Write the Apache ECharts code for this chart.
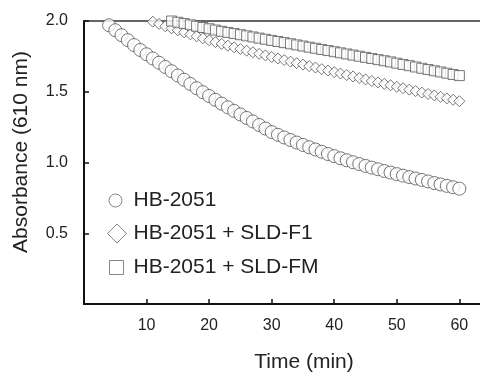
<!DOCTYPE html>
<html>
<head>
<meta charset="utf-8">
<script src="https://cdn.jsdelivr.net/npm/echarts@6/dist/echarts.min.js"></script>
<style>html,body{margin:0;padding:0;background:#fff}#c{width:480px;height:372px}</style>
</head>
<body>
<div id="c"></div>
<script>
var seriesNames = ['HB-2051', 'HB-2051 + SLD-F1', 'HB-2051 + SLD-FM'];
var timeHB = [4,5,6,7,8,9,10,11,12,13,14,15,16,17,18,19,20,21,22,23,24,25,26,27,28,29,30,31,32,33,34,35,36,37,38,39,40,41,42,43,44,45,46,47,48,49,50,51,52,53,54,55,56,57,58,59,60];
var absHB = [1.97,1.935,1.90,1.865,1.83,1.795,1.765,1.735,1.705,1.675,1.645,1.615,1.585,1.555,1.525,1.497,1.47,1.443,1.416,1.39,1.365,1.34,1.315,1.29,1.265,1.24,1.215,1.196,1.177,1.159,1.141,1.124,1.108,1.092,1.076,1.06,1.045,1.03,1.016,1.002,0.989,0.976,0.964,0.952,0.94,0.929,0.918,0.907,0.897,0.887,0.877,0.866,0.855,0.845,0.835,0.825,0.815];
var timeF1 = [11,12,13,14,15,16,17,18,19,20,21,22,23,24,25,26,27,28,29,30,31,32,33,34,35,36,37,38,39,40,41,42,43,44,45,46,47,48,49,50,51,52,53,54,55,56,57,58,59,60];
var absF1 = [1.995,1.979,1.963,1.948,1.934,1.920,1.906,1.892,1.878,1.864,1.851,1.838,1.826,1.814,1.802,1.790,1.779,1.768,1.757,1.746,1.735,1.724,1.713,1.702,1.692,1.681,1.671,1.660,1.650,1.639,1.629,1.618,1.608,1.597,1.587,1.576,1.566,1.556,1.546,1.535,1.525,1.515,1.505,1.494,1.484,1.474,1.464,1.453,1.443,1.433];
var timeFM = [14,15,16,17,18,19,20,21,22,23,24,25,26,27,28,29,30,31,32,33,34,35,36,37,38,39,40,41,42,43,44,45,46,47,48,49,50,51,52,53,54,55,56,57,58,59,60];
var absFM = [2.000,1.991,1.982,1.973,1.963,1.954,1.945,1.936,1.927,1.919,1.911,1.903,1.895,1.887,1.879,1.871,1.863,1.855,1.847,1.839,1.831,1.823,1.815,1.807,1.799,1.791,1.783,1.775,1.767,1.759,1.751,1.743,1.735,1.727,1.719,1.711,1.702,1.693,1.684,1.675,1.666,1.657,1.648,1.640,1.631,1.622,1.614];
var xTickLabels = ['10','20','30','40','50','60'];
var yTickLabels = ['0.5','1.0','1.5','2.0'];

function pairs(xs, ys) { return xs.map(function (x, i) { return [x, ys[i]]; }); }

var font = '"Liberation Sans", Arial, sans-serif';
var chart = echarts.init(document.getElementById('c'), null, {renderer: 'canvas'});
var mk = {color: '#fff', borderColor: '#555', borderWidth: 1};
function legendFor(name, icon, left, w, h, top, pad) {
  return {
    data: [{name: name, icon: icon}],
    left: left, top: top, orient: 'vertical', padding: 5,
    itemWidth: w, itemHeight: h, itemGap: 0,
    itemStyle: {borderColor: '#666', borderWidth: 1},
    textStyle: {fontFamily: font, fontSize: 21, color: '#222', padding: [0, 0, 0, pad]},
    selectedMode: false
  };
}
var X_MAX = 63.3;
chart.setOption({
  animation: false,
  backgroundColor: '#fff',
  grid: {left: 84, top: 21, bottom: 68, right: 0, show: false},
  legend: [
    legendFor(seriesNames[0], 'circle', 103.5, 13, 13, 185, 6.5),
    legendFor(seriesNames[1], 'diamond', 102, 19, 19, 218, 2),
    legendFor(seriesNames[2], 'rect', 104, 14, 14, 252, 5)
  ],
  xAxis: [{
    type: 'value', min: 0, max: X_MAX, interval: 10,
    axisLine: {lineStyle: {color: '#111', width: 2}},
    axisTick: {inside: true, length: 5, lineStyle: {color: '#111', width: 1.5}},
    axisLabel: {fontFamily: font, fontSize: 16, color: '#222', margin: 14, showMaxLabel: false,
      formatter: function (v) { var s = String(v); return xTickLabels.indexOf(s) >= 0 ? s : ''; }},
    splitLine: {show: false}
  }, {
    type: 'value', position: 'top', min: 0, max: X_MAX, interval: 10,
    axisLine: {show: true, lineStyle: {color: '#333', width: 1.5}},
    axisTick: {show: false}, axisLabel: {show: false}, splitLine: {show: false}
  }],
  yAxis: {
    type: 'value', min: 0, max: 2, interval: 0.5,
    axisLine: {show: true, lineStyle: {color: '#111', width: 2}},
    axisTick: {show: true, inside: true, length: 5, lineStyle: {color: '#111', width: 1.5}},
    axisLabel: {fontFamily: font, fontSize: 16, color: '#222', margin: 16,
      formatter: function (v) { var s = v.toFixed(1); return yTickLabels.indexOf(s) >= 0 ? s : ''; }},
    splitLine: {show: false}
  },
  graphic: [
    {type: 'text', x: 21, y: 152, rotation: Math.PI / 2,
      style: {text: 'Absorbance (610 nm)', font: '21px ' + font, fill: '#222', align: 'center', verticalAlign: 'middle'}},
    {type: 'text', x: 304, y: 362,
      style: {text: 'Time (min)', font: '21px ' + font, fill: '#222', align: 'center', verticalAlign: 'middle'}}
  ],
  series: [
    {name: seriesNames[0], type: 'scatter', symbol: 'circle', symbolSize: 13, itemStyle: mk, data: pairs(timeHB, absHB)},
    {name: seriesNames[1], type: 'scatter', symbol: 'diamond', symbolSize: 11, itemStyle: mk, data: pairs(timeF1, absF1)},
    {name: seriesNames[2], type: 'scatter', symbol: 'rect', symbolSize: 10, itemStyle: mk, data: pairs(timeFM, absFM)}
  ]
});
</script>
</body>
</html>
